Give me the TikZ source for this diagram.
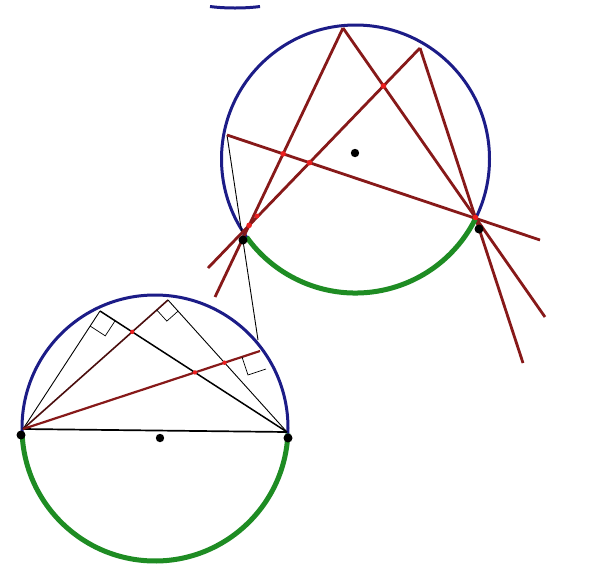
\documentclass[tikz,border=0pt]{standalone}
\usetikzlibrary{intersections,calc}
\definecolor{cblue}{RGB}{28,28,135}
\definecolor{cgreen}{RGB}{30,140,35}
\definecolor{cdred}{RGB}{135,25,25}
\definecolor{cred}{RGB}{235,30,30}
\begin{document}
\begin{tikzpicture}[x=1pt,y=-1pt,
  circ/.style={draw=cblue,line width=3pt},
  garc/.style={draw=cgreen,line width=5pt},
  rline/.style={draw=cdred,line width=2.8pt},
  bline/.style={draw=black,line width=0.9pt},
  kline/.style={draw=black,line width=1.7pt},
  ramark/.style={draw=black,line width=0.7pt},
  dotk/.style={fill=black},
  spot/.style={fill=cred}]
\useasboundingbox (0,0) rectangle (592,566);
\fill[white] (0,0) rectangle (592,566);

% small arc at top
\coordinate (t1) at (210,6.5);
\coordinate (t2) at (260,6.5);
\draw[cblue,line width=3pt] (t1) .. controls (225,8.5) and (245,8.5) .. (t2);

% ---------- top circle ----------
\coordinate (O1) at (355.5,159);
\draw[circ] (O1) circle (134);

\coordinate (A1) at (343,28);
\coordinate (A2) at (420,48);
\coordinate (L) at (227,135);
\coordinate (P) at (243,240);
\coordinate (Q) at (479,229);
\coordinate (e1) at (215,297);
\coordinate (e2) at (208,268);
\coordinate (e3) at (545,317);
\coordinate (e4) at (523,363);
\coordinate (e5) at (540,240);
\coordinate (e6) at (258,340);

\draw[bline] (L) -- (e6);
\draw[rline, name path=a1p] (A1) -- (e1);
\draw[rline, name path=a2p] (A2) -- (e2);
\draw[rline, name path=a1q] (A1) -- (e3);
\draw[rline, name path=a2q] (A2) -- (e4);
\draw[rline, name path=lq] (L) -- (e5);

\draw[garc] (O1) ++(26.7:134) arc[start angle=26.7,end angle=144.3,radius=134];

\path[name intersections={of=a1q and a2p, by=s1}];
\path[name intersections={of=lq and a1p, by=s2}];
\path[name intersections={of=lq and a2p, by=s3}];
\path[name intersections={of=a1q and a2q, by=s4}];
\path[name intersections={of=a1p and a2p, by=s5}];
\foreach \s in {s1,s2,s3,s4,s5} \fill[spot] (\s) circle (2.8);
\coordinate (s6) at (257,216);
\fill[spot] (s6) circle (2.4);

\coordinate (O1d) at (355,153);
\fill[dotk] (O1d) circle (4.2);
\fill[dotk] (P) circle (4.5);
\fill[dotk] (Q) circle (4.5);

% ---------- bottom circle ----------
\coordinate (O2) at (155,428);
\draw[circ] (O2) circle (133);

\coordinate (B) at (23,429);
\coordinate (C) at (287,432);
\coordinate (D1) at (100,311);
\coordinate (D2) at (168,300);
\coordinate (D3) at (260,351);

\draw[kline] (B) -- (C);
\draw[bline] (B) -- (D1);
\draw[draw=cdred!55!black,line width=1.6pt, name path=bd2] (B) -- (D2);
\draw[rline,line width=2.2pt, name path=bd3] (B) -- (D3);
\draw[kline,line width=1.5pt, name path=d1c] (D1) -- (C);
\draw[bline, name path=d2c] (D2) -- (C);

% right-angle marks
\coordinate (m1a) at ($(D1)!18pt!(B)$);
\coordinate (m1c) at ($(D1)!18pt!(C)$);
\coordinate (m1b) at ($(m1a)+(m1c)-(D1)$);
\draw[ramark] (m1a) -- (m1b) -- (m1c);
\coordinate (m2a) at ($(D2)!15pt!(B)$);
\coordinate (m2c) at ($(D2)!15pt!(C)$);
\coordinate (m2b) at ($(m2a)+(m2c)-(D2)$);
\draw[ramark] (m2a) -- (m2b) -- (m2c);
\coordinate (m3a) at ($(D3)!19pt!(B)$);
\coordinate (m3c) at ($(D3)!19pt!(C)$);
\coordinate (m3b) at ($(m3a)+(m3c)-(D3)$);
\draw[ramark] (m3a) -- (m3b) -- (m3c);

\draw[garc] (O2) ++(2.4:133) arc[start angle=2.4,end angle=177.9,radius=133];

\path[name intersections={of=bd2 and d1c, by=b1}];
\path[name intersections={of=bd3 and d1c, by=b2}];
\path[name intersections={of=bd3 and d2c, by=b3}];
\foreach \s in {b1,b2,b3} \fill[spot] (\s) circle (2.2);

\coordinate (O2d) at (160,438);
\fill[dotk] (O2d) circle (4.2);
\coordinate (Bd) at (21,435);
\coordinate (Cd) at (288,438);
\fill[dotk] (Bd) circle (4.5);
\fill[dotk] (Cd) circle (4.5);
\end{tikzpicture}
\end{document}
